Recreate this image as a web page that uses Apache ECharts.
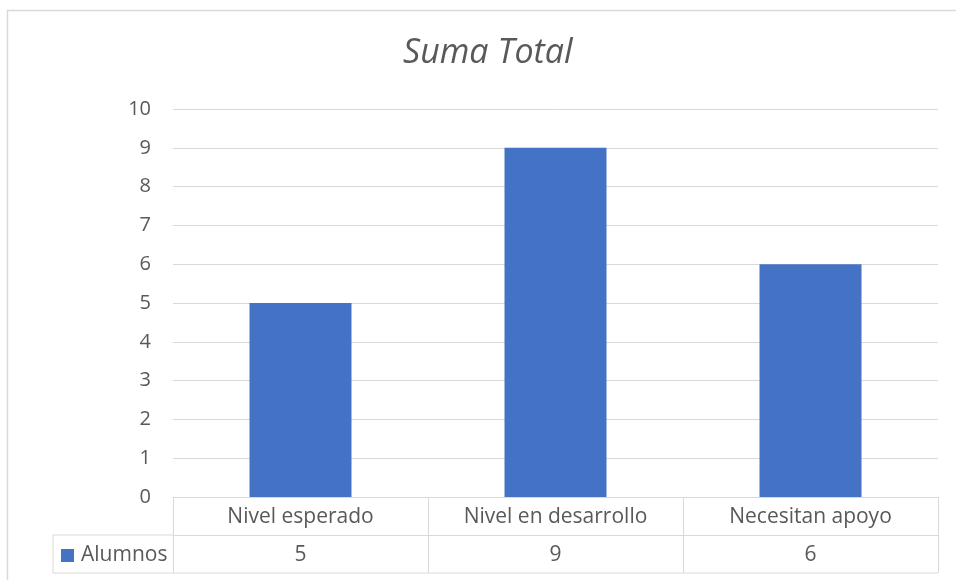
<!DOCTYPE html>
<html>
<head>
<meta charset="utf-8">
<script src="https://cdn.jsdelivr.net/npm/echarts@6/dist/echarts.min.js"></script>
<style>html,body{margin:0;padding:0;background:#fff}#c{width:956px;height:580px}</style>
</head>
<body>
<div id="c"></div>
<script>
const titleText = 'Suma Total';
const categories = ['Nivel esperado', 'Nivel en desarrollo', 'Necesitan apoyo'];
const seriesName = 'Alumnos';
const values = [5, 9, 6];
const yTicks = [0, 1, 2, 3, 4, 5, 6, 7, 8, 9, 10];

const FONT = '"Open Sans", "Noto Sans", sans-serif';
const TXT = '#595959';
const LINE = '#d9d9d9';
const BLUE = '#4472C4';

const chart = echarts.init(document.getElementById('c'), null, {renderer: 'canvas'});
const gridL = 173, gridR = 18, gridT = 109, gridB = 83;
const rowH = 38;

chart.setOption({
  animation: false,
  backgroundColor: '#fff',
  title: {
    text: titleText, left: 403, top: 36, padding: [0, 0, 0, 0],
    textStyle: {fontFamily: FONT, fontStyle: 'italic', fontWeight: 'normal', fontSize: 34, color: TXT}
  },
  legend: {
    data: [seriesName], left: 61, top: 545, icon: 'rect', itemWidth: 13, itemHeight: 13, itemGap: 5,
    padding: 0,
    textStyle: {fontFamily: FONT, fontSize: 21, color: TXT, padding: [0, 0, 0, 2]}
  },
  grid: {left: gridL, right: gridR, top: gridT, bottom: gridB},
  xAxis: [
    {
      type: 'category', data: categories, position: 'bottom',
      axisLine: {show: true, lineStyle: {color: LINE, width: 1}},
      axisTick: {show: true, length: rowH * 2, lineStyle: {color: LINE, width: 1}},
      axisLabel: {fontFamily: FONT, fontSize: 21, color: TXT, margin: 10}
    },
    {
      type: 'category', data: categories, position: 'bottom', offset: rowH,
      axisLine: {show: true, lineStyle: {color: LINE, width: 1}},
      axisTick: {show: false},
      axisLabel: {fontFamily: FONT, fontSize: 21, color: TXT, margin: 10,
        formatter: (v, i) => String(values[i])}
    }
  ],
  yAxis: {
    type: 'value', min: yTicks[0], max: yTicks[yTicks.length - 1], interval: 1,
    axisLine: {show: false}, axisTick: {show: false},
    axisLabel: {fontFamily: FONT, fontSize: 20, color: TXT, margin: 22},
    splitLine: {lineStyle: {color: LINE, width: 1}}
  },
  series: [{
    name: seriesName, type: 'bar', data: values, barWidth: '40%',
    itemStyle: {color: BLUE}
  }]
});

function drawFrame() {
  const y0 = chart.convertToPixel({yAxisIndex: 0}, 0);
  const xR = 956 - gridR;
  const tableL = 53;
  chart.setOption({
    graphic: [
      {type: 'rect', silent: true, shape: {x: 7.5, y: 10.5, width: 1000, height: 1000},
        style: {fill: 'none', stroke: LINE, lineWidth: 1.5}},
      {type: 'polyline', silent: true,
        shape: {points: [[xR, y0 + rowH * 2], [tableL, y0 + rowH * 2], [tableL, y0 + rowH], [gridL, y0 + rowH]]},
        style: {fill: 'none', stroke: LINE, lineWidth: 1}}
    ]
  });
}
drawFrame();
</script>
</body>
</html>
